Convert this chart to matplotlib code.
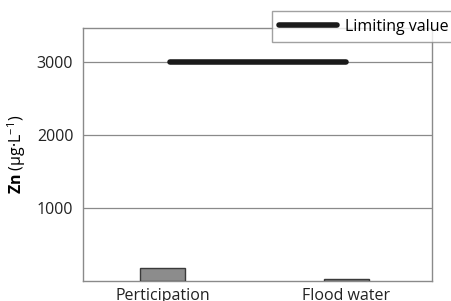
import matplotlib
matplotlib.use("Agg")
import matplotlib.pyplot as plt

plt.rcParams['font.family'] = ['Open Sans', 'DejaVu Sans']
plt.rcParams['mathtext.fontset'] = 'custom'
plt.rcParams['mathtext.rm'] = 'Open Sans'
plt.rcParams['mathtext.bf'] = 'Open Sans:bold'

# data
categories = ["Perticipation", "Flood water"]
zn_values = [180, 40]
limit_x = [0.04, 1.0]
limit_values = [3000, 3000]
y_ticks = [1000, 2000, 3000]

fig = plt.figure(figsize=(4.52, 3.01), dpi=100)
ax = fig.add_axes([0.1836, 0.0648, 0.7722, 0.8432])

x = list(range(len(categories)))
ax.bar(x, zn_values, width=0.245, color='#8c8c8c', edgecolor='#3a3a3a',
       linewidth=1.0, zorder=3)
ax.plot(limit_x, limit_values, color='#1a1a1a', linewidth=4,
        solid_capstyle='round', zorder=4, label="Limiting value")

ax.set_xlim(-0.432, 1.465)
ax.set_ylim(0, 3475)
ax.set_xticks(x)
ax.set_xticklabels(categories, fontsize=11.5)
ax.set_yticks(y_ticks)
ax.set_yticklabels([str(v) for v in y_ticks], fontsize=11.5)
ax.tick_params(axis='both', length=0, colors='#222222')
ax.tick_params(axis='y', pad=7)
ax.tick_params(axis='x', pad=5)

ax.grid(axis='y', color='#8a8a8a', linewidth=0.9, zorder=0)
for s in ax.spines.values():
    s.set_color('#8a8a8a')
    s.set_linewidth(1.0)

ax.set_ylabel(r"$\mathbf{Zn}$ (µg·L$^{-1}$)", fontsize=11.5, labelpad=6)

leg = ax.legend(loc='upper right', bbox_to_anchor=(1.008, 0.962),
                bbox_transform=fig.transFigure, fontsize=11.5, frameon=True,
                fancybox=False, handlelength=3.6, handletextpad=0.5,
                borderpad=0.45, borderaxespad=0)
leg.get_frame().set_edgecolor('#8a8a8a')
leg.get_frame().set_linewidth(1.0)

fig.savefig("out.png", dpi=100)
